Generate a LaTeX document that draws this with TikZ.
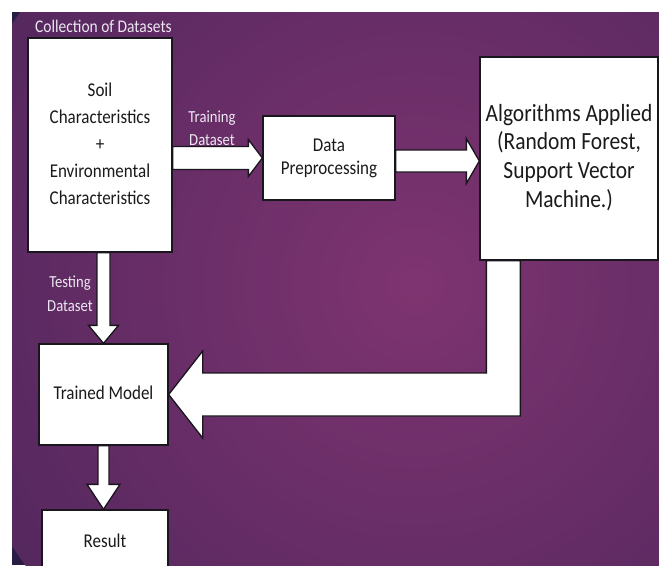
\documentclass[tikz,border=0pt]{standalone}
\usepackage{fontspec}
\usepackage{graphicx}
\setmainfont{Carlito}
\usetikzlibrary{calc}
\definecolor{glowin}{RGB}{126,52,112}
\definecolor{glowmid}{RGB}{90,41,97}
\definecolor{glowout}{RGB}{40,28,68}
\definecolor{boxline}{RGB}{25,22,30}
\definecolor{labeltext}{RGB}{236,232,240}
\definecolor{boxtext}{RGB}{26,26,26}
\pgfdeclareradialshading{purpleglow}{\pgfpoint{0bp}{0bp}}{color(0bp)=(glowin); color(22bp)=(glowmid); color(50bp)=(glowout)}
\newcommand\stretchtext[1]{\raisebox{-1.5pt}{\scalebox{1}[1.15]{\begin{tabular}{@{}c@{}}#1\end{tabular}}}}
\newcommand\hblock[5]{%
  \draw[blk] ($(#1)+(0,-#3)$) -- ($(#2)+(-#5,-#3)$) -- ($(#2)+(-#5,-#4)$) -- (#2)
    -- ($(#2)+(-#5,#4)$) -- ($(#2)+(-#5,#3)$) -- ($(#1)+(0,#3)$) -- cycle;}
\newcommand\vblock[5]{%
  \draw[blk] ($(#1)+(-#3,0)$) -- ($(#2)+(-#3,-#5)$) -- ($(#2)+(-#4,-#5)$) -- (#2)
    -- ($(#2)+(#4,-#5)$) -- ($(#2)+(#3,-#5)$) -- ($(#1)+(#3,0)$) -- cycle;}
\begin{document}
\begin{tikzpicture}[x=0.75pt,y=-0.75pt,
  box/.style={draw=boxline, line width=1pt, fill=white, text=boxtext, align=center, inner sep=0pt},
  blk/.style={draw=boxline, line width=1pt, fill=white, line join=miter},
  lbl/.style={text=labeltext, align=center, inner sep=0pt}]
\useasboundingbox (0,0) rectangle (659,565);
\fill[white] (0,0) rectangle (659,565);
\begin{scope}
  \clip (12,12) rectangle (659,565);
  \fill[glowout] (12,12) rectangle (659,565);
  \shade[shading=purpleglow] (415,285) circle (480);
\end{scope}

% boxes
\node[box, minimum width=108pt, minimum height=160.5pt,
      font=\fontsize{12.75}{17.6}\selectfont] (coll) at (100,145)
  {\stretchtext{Soil\\Characteristics\\+\\Environmental\\Characteristics}};
\node[lbl, font=\fontsize{11.6}{14}\selectfont] (colllbl) at (103.5,28)
  {\stretchtext{Collection of Datasets}};
\node[box, minimum width=99pt, minimum height=63pt,
      font=\fontsize{12.75}{15}\selectfont] (data) at (329,158)
  {\stretchtext{Data\\Preprocessing}};
\node[box, minimum width=133.5pt, minimum height=152.25pt,
      font=\fontsize{16.1}{18.7}\selectfont] (alg) at (569,158.5)
  {\stretchtext{Algorithms Applied\\(Random Forest,\\Support Vector\\Machine.)}};
\node[box, minimum width=96.75pt, minimum height=75.75pt,
      font=\fontsize{12.75}{15}\selectfont] (trained) at (103.5,394.5)
  {\stretchtext{Trained Model}};
\begin{scope}
  \clip (12,12) rectangle (659,565);
  \node[box, minimum width=94.5pt, minimum height=48.75pt,
        font=\fontsize{12.75}{15}\selectfont] (result) at (105,542.5)
    {\stretchtext{Result}};
\end{scope}
\node[lbl, font=\fontsize{11}{15}\selectfont] (trainlbl) at (212,129.5)
  {\stretchtext{Training\\Dataset}};
\node[lbl, font=\fontsize{11}{15.7}\selectfont] (testlbl) at (70,295)
  {\stretchtext{Testing\\Dataset}};

% block arrows
\hblock{coll.east |- data.west}{data.west}{11.5}{18.5}{14}
\coordinate (a2s) at ($(data.east)+(0,3)$);
\coordinate (a2t) at (a2s -| alg.west);
\hblock{a2s}{a2t}{11}{22.5}{13}
\vblock{trained.north |- coll.south}{trained.north}{6.5}{15}{18}
\vblock{trained.south}{trained.south |- result.north}{5.5}{16.5}{25}

% L-shaped arrow from algorithms to trained model
\coordinate (lo) at ($(alg.south west)+(41,0)$);
\coordinate (li) at ($(alg.south west)+(7,0)$);
\coordinate (hb) at ($(trained.east)+(34,21.5)$);
\coordinate (ht) at ($(trained.east)+(34,-21.5)$);
\draw[blk] (lo) -- (lo |- hb) -- (hb) -- ($(trained.east)+(34,43.5)$) -- (trained.east)
  -- ($(trained.east)+(34,-43.5)$) -- (ht) -- (li |- ht) -- (li) -- cycle;
\end{tikzpicture}
\end{document}
